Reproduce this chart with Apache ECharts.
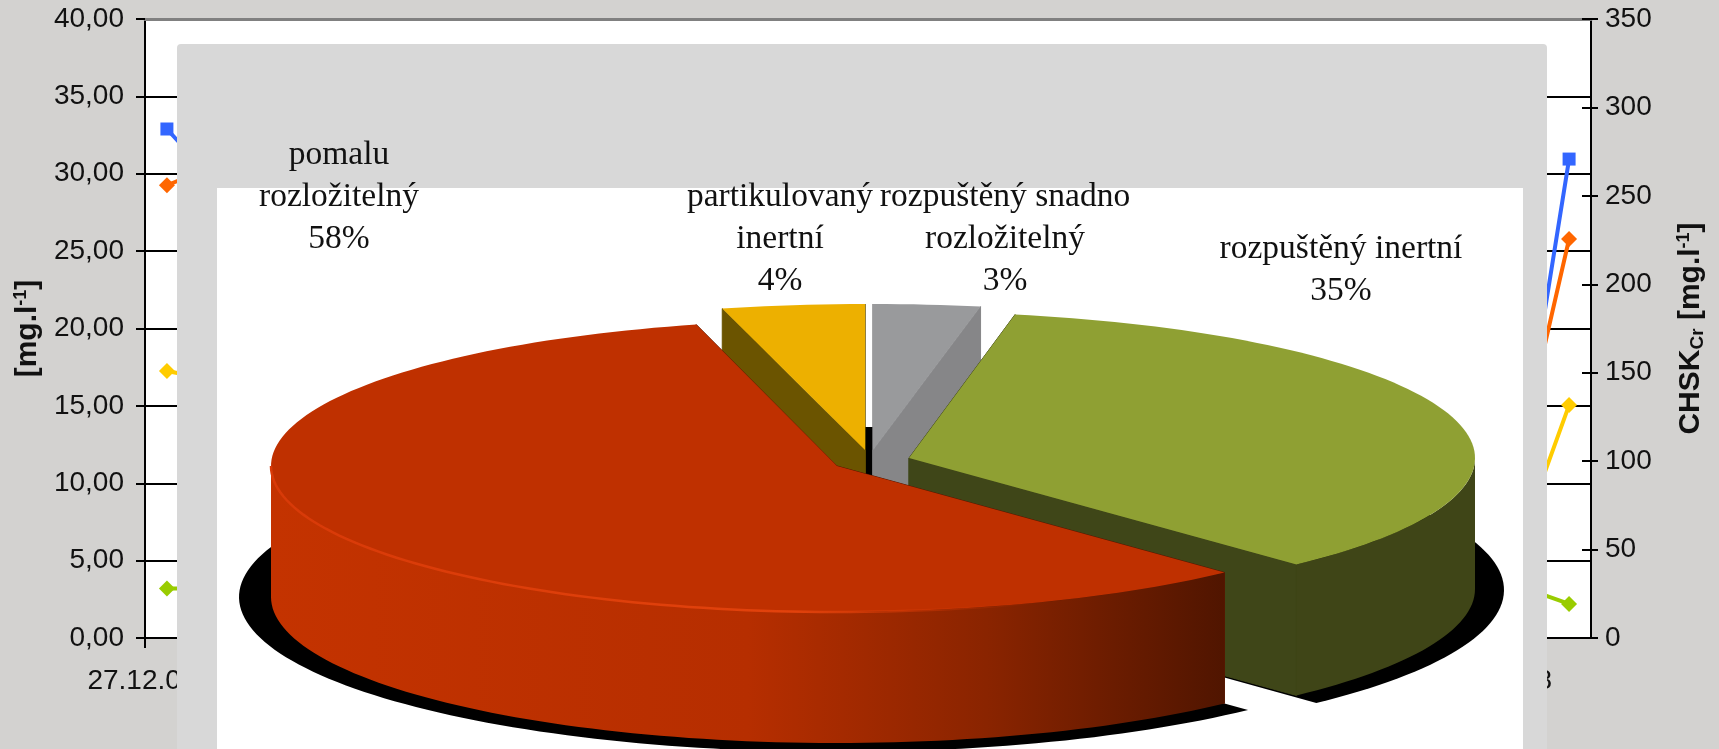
<!DOCTYPE html>
<html>
<head>
<meta charset="utf-8">
<title>CHSK</title>
<style>html,body{margin:0;padding:0;background:#d3d2d0}#c{width:1719px;height:749px}</style>
<script src="https://cdn.jsdelivr.net/npm/echarts@6/dist/echarts.min.js"></script>
</head>
<body>
<div id="c"></div>
<script>
// Time series behind the inset: sampling dates and the four measured series.
var dates = ['27.12.07','','','','','','','','','','','','','','','','','','','','','','','','','','','','','','','1.8.08',''];
var _ = null;
var chskTotal    = [287.8,260.7,_,_,_,_,_,_,_,_,_,_,_,_,_,_,_,_,_,_,_,_,_,_,_,_,_,_,_,_,_,115.9,270.8];
var chskFiltered = [256.0,266.0,_,_,_,_,_,_,_,_,_,_,_,_,_,_,_,_,_,_,_,_,_,_,_,_,_,_,_,_,_,117.6,225.6];
var nitrogen     = [17.25,16.7,_,_,_,_,_,_,_,_,_,_,_,_,_,_,_,_,_,_,_,_,_,_,_,_,_,_,_,_,_,7.2,15.05];
var phosphorus   = [3.2,3.2,_,_,_,_,_,_,_,_,_,_,_,_,_,_,_,_,_,_,_,_,_,_,_,_,_,_,_,_,_,3.2,2.2];

// COD fractions of the inset pie, clockwise from twelve o'clock.
var fractionNames = ['rozpuštěný snadno\nrozložitelný','rozpuštěný inertní','pomalu\nrozložitelný','partikulovaný\ninertní'];
var fractionValues = [3,35,58,4];

// Screen layout of each exploded slice (same order as the fractions).
var sliceLayout = [
  {cx:873, cy:450, rx:574, top:'#999a9c', cut:'#868688'},
  {cx:909, cy:458, rx:566, top:'#8fa033', cut:'#3f4618', wall:'#3f4517',
   shadow:{cx:909, cy:590, rx:595, ry:155}},
  {cx:837, cy:466, rx:566, top:'#bf3000', cut:'#5a1800',
   wall:{type:'linear',x:0,y:0,x2:1,y2:0,colorStops:[{offset:0,color:'#c43300'},{offset:0.5,color:'#b62e00'},{offset:0.75,color:'#8a2400'},{offset:1,color:'#501500'}]},
   rim:{type:'linear',x:0,y:0,x2:1,y2:0,colorStops:[{offset:0,color:'#d83a08'},{offset:0.55,color:'#e2420c'},{offset:0.8,color:'rgba(200,50,0,0)'},{offset:1,color:'rgba(200,50,0,0)'}]},
   shadow:{cx:838, cy:597, rx:599, ry:155}},
  {cx:865, cy:450, rx:574, top:'#edb000', cut:'#6b5400'}
];
var RY = 146, DEPTH = 131;
var paintOrder = [3,0,1,2];
var labelLayout = [
  {x:1005, y:239},
  {x:1341, y:270},
  {x:339,  y:197},
  {x:780,  y:239}
];

var total = fractionValues.reduce(function(a,b){return a+b;},0);
function startAngle(i){
  var s = 0;
  for (var k=0;k<i;k++) s += fractionValues[k];
  return s/total*360;
}
function ell(cx,cy,rx,ry,deg){
  var a = deg*Math.PI/180;
  return [cx+rx*Math.sin(a), cy-ry*Math.cos(a)];
}
function arc(cx,cy,rx,ry,a0,a1){
  var pts=[], n=Math.max(2,Math.ceil((a1-a0)/1.5));
  for (var k=0;k<=n;k++) pts.push(ell(cx,cy,rx,ry,a0+(a1-a0)*k/n));
  return pts;
}
function down(p){ return [p[0],p[1]+DEPTH]; }

function renderSlice(params, api){
  var i = api.value(0);
  var g = sliceLayout[i];
  var a0 = startAngle(i), a1 = a0 + fractionValues[i]/total*360;
  var c = [g.cx,g.cy], kids = [];
  if (g.shadow){
    var s = g.shadow;
    kids.push({type:'polygon',shape:{points:[[s.cx,s.cy]].concat(arc(s.cx,s.cy,s.rx,s.ry,a0,a1))},style:{fill:'#000'}});
  }
  var r0 = ell(g.cx,g.cy,g.rx,RY,a0), r1 = ell(g.cx,g.cy,g.rx,RY,a1);
  // Cut faces first, the outer wall then covers whatever lies behind it.
  [r0,r1].forEach(function(r){
    kids.push({type:'polygon',shape:{points:[c,r,down(r),down(c)]},style:{fill:g.cut,stroke:g.cut,lineWidth:1}});
  });
  var w0 = Math.max(a0,90), w1 = Math.min(a1,270);
  if (g.wall && w1>w0){
    var rim = arc(g.cx,g.cy,g.rx,RY,w0,w1);
    kids.push({type:'polygon',shape:{points:rim.concat(rim.map(down).reverse())},style:{fill:g.wall}});
  }
  kids.push({type:'polygon',shape:{points:[c].concat(arc(g.cx,g.cy,g.rx,RY,a0,a1))},style:{fill:g.top}});
  if (g.rim){
    kids.push({type:'polyline',shape:{points:arc(g.cx,g.cy,g.rx,RY,w0,w1)},style:{fill:null,stroke:g.rim,lineWidth:2.5}});
  }
  return {type:'group',children:kids};
}

function renderLabel(params, api){
  var i = api.value(0), p = labelLayout[i];
  return {type:'text',style:{
    text: fractionNames[i]+'\n'+fractionValues[i]+'%',
    x:p.x, y:p.y, align:'center', verticalAlign:'middle',
    font:'33.5px "Liberation Serif", serif', lineHeight:42, fill:'#111'
  }};
}

var sans = '"Liberation Sans", Arial, sans-serif';
var axisText = {color:'#111', fontFamily:sans, fontSize:28};
var nameRich = {
  b:{fontFamily:sans,fontSize:30,fontWeight:'bold',color:'#111'},
  s:{fontFamily:sans,fontSize:18,fontWeight:'bold',color:'#111',verticalAlign:'top',lineHeight:32},
  u:{fontFamily:sans,fontSize:19,fontWeight:'bold',color:'#111',verticalAlign:'bottom',lineHeight:28}
};
var black = {color:'#000',width:2};

function lineSeries(name,data,color,axis,symbol,size){
  return {name:name,type:'line',data:data,yAxisIndex:axis,connectNulls:false,symbol:symbol,symbolSize:size,
    lineStyle:{color:color,width:4},itemStyle:{color:color},z:3};
}

var chart = echarts.init(document.getElementById('c'),null,{renderer:'canvas'});
chart.setOption({
  animation:false,
  backgroundColor:'#d3d2d0',
  grid:{left:145,right:128,top:19,bottom:111,show:true,backgroundColor:'#fff',borderWidth:0,outerBoundsMode:'none'},
  xAxis:[
    {type:'category',data:dates,boundaryGap:true,
     axisLine:{onZero:false,lineStyle:black},
     axisTick:{show:false},
     axisLabel:Object.assign({},axisText,{margin:29,interval:function(i,v){return v!=='';},
       formatter:function(v,i){return i===0?'{f|'+v+'}':'{l|'+v+'}';},
       rich:{f:{padding:[0,50,0,0],fontSize:28,color:'#111',fontFamily:sans},
             l:{padding:[0,24,0,0],fontSize:28,color:'#111',fontFamily:sans}}})},
    {type:'category',position:'top',data:dates,axisLine:{onZero:false,lineStyle:{color:'#808080',width:3}},axisTick:{show:false},axisLabel:{show:false}}
  ],
  yAxis:[
    {type:'value',min:0,max:40,interval:5,position:'left',
     name:'{b|[mg.l}{s|-1}{b|]}',nameLocation:'middle',nameRotate:90,nameGap:98,nameTextStyle:{rich:nameRich},
     axisLine:{show:true,onZero:false,lineStyle:black},axisTick:{show:true,length:9,lineStyle:black},
     axisLabel:Object.assign({},axisText,{margin:21,padding:[5,0,0,0],formatter:function(v){return v.toFixed(2).replace('.',',');}}),
     splitLine:{show:true,lineStyle:{color:'#000',width:2}}},
    {type:'value',min:0,max:350,interval:50,position:'right',
     name:'{b|CHSK}{u|Cr}{b| [mg.l}{s|-1}{b|]}',nameLocation:'middle',nameRotate:90,nameGap:84,nameTextStyle:{rich:nameRich},
     axisLine:{show:true,lineStyle:black},axisTick:{show:true,length:7,lineStyle:black},
     axisLabel:Object.assign({},axisText,{margin:14,padding:[4,0,0,0]}),
     splitLine:{show:false}},
    // Inward half of the crossing ticks on the right-hand scale.
    {type:'value',min:0,max:350,interval:50,position:'right',
     axisLine:{show:false},axisTick:{show:true,inside:true,length:9,lineStyle:black},
     axisLabel:{show:false},splitLine:{show:false}}
  ],
  graphic:[
    {type:'line',z:5,shape:{x1:145,y1:638,x2:145,y2:648},style:{stroke:'#000',lineWidth:2}},
    {type:'rect',z:40,shape:{x:177,y:44,width:1370,height:720,r:4},style:{fill:'#d8d8d8'}},
    {type:'rect',z:41,shape:{x:217,y:188,width:1306,height:561},style:{fill:'#fff'}},
    {type:'rect',z:42,shape:{x:865,y:427,width:8,height:48},style:{fill:'#000'}}
  ],
  series:[
    lineSeries('CHSK celkový',chskTotal,'#3366ff',1,'rect',13),
    lineSeries('CHSK filtrovaný',chskFiltered,'#ff6600',1,'diamond',16),
    lineSeries('N',nitrogen,'#ffcc00',0,'diamond',16),
    lineSeries('P',phosphorus,'#99cc00',0,'diamond',16),
    {type:'custom',coordinateSystem:'none',z:50,silent:true,clip:false,
     data:paintOrder.map(function(i){return [i];}),renderItem:renderSlice},
    {type:'custom',coordinateSystem:'none',z:51,silent:true,clip:false,
     data:fractionValues.map(function(v,i){return [i];}),renderItem:renderLabel}
  ]
});
</script>
</body>
</html>
